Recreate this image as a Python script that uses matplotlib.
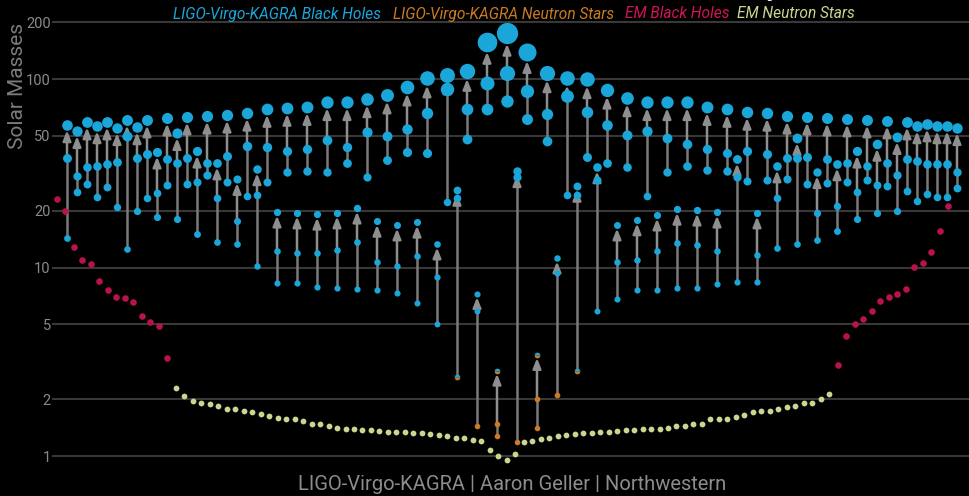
import matplotlib.pyplot as plt

plt.rcParams['font.family'] = ['Roboto', 'DejaVu Sans']

# LIGO-Virgo-KAGRA mergers, one column each (solar masses)
final = [57.0, 53.0, 59.1, 56.3, 59.1, 55.0, 60.6, 55.6, 60.6, 41.0,
         62.1, 51.7, 62.9, 41.5, 63.6, 35.8, 64.4, 29.5, 66.0, 33.3,
         69.3, 19.7, 70.2, 19.5, 71.0, 19.2, 75.5, 19.5, 75.5, 20.7,
         78.3, 17.6, 82.2, 16.8, 91.0, 17.4, 101, 13.3, 105, 25.8,
         110, 7.23, 157, 2.83, 175, 32.5, 139, 3.43, 108, 11.2,
         101, 27.1, 100, 34.1, 87.4, 16.8, 79.3, 17.9, 75.5, 19.0,
         75.5, 20.4, 75.5, 20.2, 71.0, 19.7, 69.3, 37.6, 66.8, 19.5,
         66.0, 34.5, 63.6, 48.6, 62.9, 32.1, 62.1, 35.4, 61.4, 41.5,
         60.6, 45.2, 59.9, 49.2, 59.1, 56.3, 57.7, 56.3, 56.3, 55.0]
m1 = [38.1, 30.6, 34.1, 34.5, 35.4, 36.3, 50.0, 38.1, 40.0, 24.9,
      37.6, 35.8, 38.1, 28.4, 35.8, 23.4, 39.0, 17.6, 44.1, 24.3,
      43.6, 12.2, 41.5, 11.9, 42.5, 11.9, 47.5, 12.4, 43.6, 13.7,
      52.4, 10.7, 50.0, 10.2, 54.3, 11.5, 66.0, 8.9, 88.5, 23.4,
      69.3, 5.88, 95.0, 1.48, 108, 30.2, 86.4, 2.01, 65.2, 9.35,
      81.2, 24.3, 66.8, 29.1, 57.0, 10.7, 50.5, 11.0, 53.0, 12.2,
      48.6, 13.5, 45.2, 13.2, 42.5, 12.2, 40.5, 30.2, 41.5, 11.6,
      40.0, 23.4, 38.1, 38.1, 38.6, 19.5, 37.6, 21.2, 35.8, 25.1,
      34.5, 27.4, 35.8, 31.0, 37.6, 36.7, 35.4, 35.4, 35.4, 32.1]
m2 = [14.3, 25.1, 27.7, 23.7, 26.7, 20.9, 12.5, 20.0, 23.4, 18.5,
      27.4, 18.1, 27.7, 15.1, 31.0, 13.7, 28.4, 13.3, 24.0, 10.2,
      28.4, 8.27, 32.1, 8.27, 32.5, 7.88, 32.1, 7.78, 35.8, 7.69,
      30.2, 7.60, 37.2, 7.32, 41.0, 6.48, 40.5, 5.01, 22.3, 2.62,
      48.1, 1.44, 69.3, 1.28, 76.4, 1.19, 61.4, 1.41, 46.9, 2.11,
      24.3, 2.83, 38.6, 5.88, 35.8, 6.81, 34.1, 7.60, 24.0, 7.60,
      32.1, 7.78, 34.5, 7.78, 32.9, 8.17, 32.5, 8.38, 28.8, 8.38,
      29.1, 12.7, 29.5, 13.3, 27.7, 14.0, 28.1, 15.6, 28.4, 18.1,
      29.1, 19.5, 27.1, 20.0, 25.5, 22.5, 24.5, 23.7, 23.7, 26.4]
# columns whose dots are neutron stars or ambiguous (drawn half and half)
final_mixed = [43, 47]
m1_ns = [43, 47]
m2_ns = [41, 43, 45, 47, 49]
m2_mixed = [39, 51]

# electromagnetic observations, sorted along the bottom
em_bh_left = [23.1, 20.0, 12.8, 11.0, 10.4, 8.48, 7.60, 6.98, 6.89, 6.56,
              5.53, 5.14, 4.89, 3.31]
em_ns = [2.29, 2.08, 1.96, 1.91, 1.89, 1.84, 1.78, 1.78, 1.73, 1.71,
         1.67, 1.63, 1.59, 1.57, 1.57, 1.53, 1.48, 1.48, 1.44,
         1.41, 1.39, 1.39, 1.37, 1.37, 1.36, 1.34, 1.34, 1.34, 1.32,
         1.32, 1.31, 1.29, 1.28, 1.25, 1.25, 1.22, 1.20, 1.08, 1.00,
         0.95, 1.02, 1.19, 1.20, 1.23, 1.25, 1.28, 1.29, 1.31, 1.32,
         1.32, 1.34, 1.34, 1.36, 1.37, 1.37, 1.39,
         1.39, 1.39, 1.41, 1.44, 1.44, 1.48, 1.48, 1.57, 1.57, 1.57,
         1.61, 1.65, 1.71, 1.73, 1.73, 1.78, 1.82, 1.84, 1.91, 1.91,
         2.01, 2.13]
em_bh_right = [3.04, 4.33, 5.01, 5.33, 5.88, 6.64, 6.98, 7.23, 7.69, 10.1,
               10.6, 12.1, 15.6, 21.2]

yticks = [1, 2, 5, 10, 20, 50, 100, 200]

BLUE = '#1aa6d9'
ORANGE = '#c97a22'
RED = '#b8134f'
GREEN = '#c9d68f'


def size_pt(m):
    # marker diameter in points grows with mass
    return (5.5 + 0.09 * m) * 0.72


fig = plt.figure(figsize=(9.69, 4.96), dpi=100, facecolor='black')
ax = fig.add_axes([52 / 969, 26 / 496, 1 - 52 / 969, 465 / 496])
ax.set_facecolor('black')
ax.set_yscale('log')
ax.set_ylim(0.843, 247)
ax.set_xlim(-1.5, 90.2)

# line from the lighter progenitor, arrow from the heavier one up to the remnant
for i in range(len(final)):
    ax.plot([i, i], [m2[i], m1[i]], color='#7a7a7a', lw=1.8, zorder=2,
            solid_capstyle='butt')
    ax.annotate('', xy=(i, final[i]), xytext=(i, m1[i]),
                arrowprops=dict(arrowstyle='-|>,head_length=0.6,head_width=0.24',
                                color='#8e8e8e', lw=1.8,
                                shrinkA=0, shrinkB=size_pt(final[i]) / 2),
                zorder=2)


def dot(x, m, kind):
    ms = size_pt(m)
    if kind == 'b':
        ax.plot(x, m, 'o', ms=ms, color=BLUE, mew=0, zorder=3)
    elif kind == 'n':
        ax.plot(x, m, 'o', ms=ms, color=ORANGE, mew=0, zorder=3)
    else:
        ax.plot(x, m, 'o', ms=ms, fillstyle='top', markerfacecolor=BLUE,
                markerfacecoloralt=ORANGE, mew=0, zorder=3)


for i in range(len(final)):
    dot(i, m2[i], 'n' if i in m2_ns else ('h' if i in m2_mixed else 'b'))
    dot(i, m1[i], 'n' if i in m1_ns else 'b')
    dot(i, final[i], 'h' if i in final_mixed else 'b')

# EM objects on their own horizontal spacing
ax2 = ax.twiny()
ax2.set_xlim(-0.589, 107.47)
n_l, n_ns = len(em_bh_left), len(em_ns)
x_l = list(range(n_l))
x_ns = list(range(n_l, n_l + n_ns))
x_r = list(range(n_l + n_ns, n_l + n_ns + len(em_bh_right)))
ax2.scatter(x_l, em_bh_left, s=(6.6 * 0.72) ** 2, color=RED, lw=0, zorder=3)
ax2.scatter(x_r, em_bh_right, s=(6.6 * 0.72) ** 2, color=RED, lw=0, zorder=3)
ax2.scatter(x_ns, em_ns, s=(5.8 * 0.72) ** 2, color=GREEN, lw=0, zorder=3)
ax2.set_xticks([])

for a in (ax, ax2):
    for s in a.spines.values():
        s.set_visible(False)

ax.set_yticks(yticks)
ax.set_yticklabels([str(t) for t in yticks])
ax.minorticks_off()
ax.set_xticks([])
ax.tick_params(axis='y', length=0, pad=1, labelsize=10.5, labelcolor='#8a8a8a')
ax.grid(axis='y', color='#383838', lw=1.5)
ax.set_axisbelow(True)

fig.text(18 / 969, 1 - 86 / 496, 'Solar Masses', rotation=90, ha='center',
         va='center', fontsize=15, color='#7c7c7c')
fig.text(512 / 969, 1 - 485 / 496, 'LIGO-Virgo-KAGRA | Aaron Geller | Northwestern',
         ha='center', va='center', fontsize=14.5, color='#8c8c8c')

legend = [('LIGO-Virgo-KAGRA Black Holes', BLUE, 173),
          ('LIGO-Virgo-KAGRA Neutron Stars', ORANGE, 393),
          ('EM Black Holes', '#d0145a', 625),
          ('EM Neutron Stars', GREEN, 737)]
for label, c, x in legend:
    fig.text(x / 969, 1 - 14 / 496, label, ha='left', va='center',
             fontsize=11.2, style='italic', color=c)

# title sits above the frame, only its descender shows
fig.text(830 / 969, 1 + 6 / 496, 'Masses in the Stellar Graveyard', ha='right',
         va='baseline', fontsize=24, color='white')

fig.savefig('out.png', dpi=100, facecolor='black')
